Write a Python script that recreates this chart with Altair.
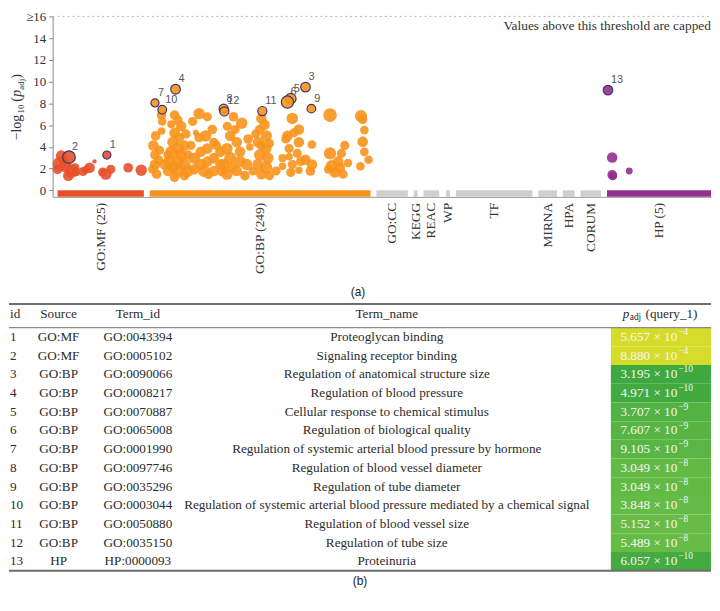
import altair as alt
import numpy as np
import pandas as pd

SERIF = "Liberation Serif"
SANS = "Liberation Sans"
TXT = "#2b2b2b"

# ---------------- Source tracks ----------------
source_names = ["GO:MF", "GO:BP", "GO:CC", "KEGG", "REAC", "WP", "TF", "MIRNA", "HPA", "CORUM", "HP"]
source_labels = ["GO:MF (25)", "GO:BP (249)", "GO:CC", "KEGG", "REAC", "WP", "TF", "MIRNA", "HPA", "CORUM", "HP (5)"]
source_start = [5, 99, 330, 368, 378, 401, 411, 495, 520, 538, 565]
source_end = [93, 324, 362, 372, 394, 405, 489, 514, 532, 559, 671]
source_colors = ["#e8502a", "#f7941d", "#cfcfcf", "#cfcfcf", "#cfcfcf", "#cfcfcf",
                 "#cfcfcf", "#cfcfcf", "#cfcfcf", "#cfcfcf", "#952f8f"]

# ---------------- Unlabelled points ----------------
mf_x = [8.7, 7.0, 12.7, 19.3, 16.0, 22.7, 31.0, 37.7, 42.7, 34.0,
        54.3, 59.3, 77.0, 90.3, 11.0, 24.0, 51.0, 5.0]
mf_y = [3.19, 2.44, 2.22, 1.78, 1.35, 2.08, 1.73, 2.08, 2.66, 1.89,
        1.49, 1.93, 2.08, 1.85, 2.81, 1.67, 1.67, 1.93]
mf_size = [600, 1000, 800, 1000, 600, 450, 450, 600, 100, 300,
           700, 450, 500, 700, 450, 350, 450, 500]

bp_x = [105.0, 102.7, 104.3, 104.3, 106.0, 102.0, 111.0, 111.7, 111.0, 114.3,
        117.7, 109.0, 108.0, 124.3, 127.7, 131.0, 124.3, 122.7, 121.0, 127.7,
        134.3, 137.7, 119.3, 127.7, 134.3, 117.7, 127.7, 137.7, 124.3, 134.3,
        129.0, 136.0, 121.0, 131.0, 123.0, 149.3, 157.7, 142.7, 146.0, 149.3,
        156.0, 162.7, 164.3, 157.7, 151.0, 144.3, 151.0, 157.7, 164.3, 171.0,
        171.0, 154.3, 164.3, 172.7, 144.3, 141.0, 167.0, 159.0, 184.3, 192.7,
        186.0, 181.0, 187.7, 199.3, 177.7, 191.0, 201.0, 181.0, 191.0, 197.7,
        174.3, 177.7, 187.7, 196.0, 204.3, 178.0, 183.0, 212.7, 216.0, 211.0,
        217.7, 209.3, 217.7, 211.0, 219.3, 209.3, 217.7, 212.7, 221.0, 213.0,
        221.0, 207.0, 227.7, 234.3, 244.3, 239.3, 246.0, 251.0, 241.0, 249.3,
        241.0, 244.3, 252.7, 242.7, 251.0, 237.7, 234.3, 251.0, 264.3, 257.7,
        264.3, 262.7, 282.7, 297.7, 282.7, 294.3, 301.0, 291.0, 284.3, 292.7,
        287.7, 296.0, 281.0, 314.3, 316.0, 317.7, 316.0, 317.7, 322.0, 313.7]
bp_y = [5.01, 4.13, 3.25, 2.37, 1.49, 1.93, 6.92, 6.33, 5.45, 2.37,
        1.78, 3.69, 2.81, 6.92, 6.48, 5.89, 5.30, 4.42, 3.54, 3.84,
        4.13, 3.25, 2.66, 2.66, 2.37, 3.25, 1.78, 1.78, 1.20, 1.35,
        4.84, 5.19, 6.07, 3.25, 2.20, 7.06, 6.77, 6.33, 5.30, 4.86,
        5.01, 5.60, 4.42, 3.84, 3.54, 2.96, 2.37, 2.66, 2.96, 3.54,
        2.37, 1.78, 1.78, 1.78, 1.93, 4.13, 4.13, 1.45, 6.77, 6.18,
        5.60, 5.01, 4.42, 4.72, 3.84, 3.54, 3.98, 2.96, 2.66, 2.37,
        2.37, 1.49, 1.78, 1.35, 1.78, 5.89, 2.11, 6.62, 6.04, 5.60,
        5.01, 4.42, 3.84, 3.25, 2.96, 2.37, 2.08, 1.49, 1.35, 4.13,
        4.31, 5.19, 1.78, 2.22, 6.62, 5.01, 5.30, 4.42, 3.84, 3.40,
        3.10, 2.37, 2.66, 1.64, 1.85, 4.72, 2.96, 5.60, 4.22, 2.81,
        2.37, 1.78, 6.92, 4.13, 3.40, 3.40, 2.52, 2.66, 2.22, 2.08,
        1.64, 1.49, 1.93, 6.83, 6.51, 5.54, 4.48, 3.54, 2.81, 2.22]
bp_size = [500, 600, 500, 600, 500, 450, 500, 400, 300, 600,
           600, 450, 450, 500, 450, 600, 600, 700, 800, 800,
           600, 500, 800, 800, 800, 500, 800, 800, 500, 500,
           550, 450, 350, 700, 700, 700, 450, 450, 200, 500,
           700, 500, 450, 600, 600, 700, 700, 600, 600, 600,
           600, 800, 600, 600, 600, 450, 450, 450, 500, 700,
           450, 600, 600, 500, 700, 600, 300, 800, 700, 700,
           700, 700, 600, 500, 450, 450, 550, 600, 600, 500,
           700, 600, 600, 700, 700, 700, 800, 600, 450, 550,
           450, 450, 450, 300, 700, 600, 450, 600, 450, 450,
           300, 450, 450, 450, 300, 450, 350, 600, 400, 600,
           600, 500, 1000, 450, 800, 450, 400, 600, 800, 600,
           600, 450, 400, 800, 450, 400, 600, 400, 400, 400]

hp_x = [570.3, 570.3, 587.7, 571.0]
hp_y = [3.02, 1.43, 1.78, 1.32]
hp_size = [600, 500, 250, 400]

# ---------------- Highlighted terms (table) ----------------
ids = list(range(1, 14))
tab_source = ["GO:MF", "GO:MF", "GO:BP", "GO:BP", "GO:BP", "GO:BP", "GO:BP",
              "GO:BP", "GO:BP", "GO:BP", "GO:BP", "GO:BP", "HP"]
term_ids = ["GO:0043394", "GO:0005102", "GO:0090066", "GO:0008217", "GO:0070887",
            "GO:0065008", "GO:0001990", "GO:0097746", "GO:0035296", "GO:0003044",
            "GO:0050880", "GO:0035150", "HP:0000093"]
term_names = ["Proteoglycan binding",
              "Signaling receptor binding",
              "Regulation of anatomical structure size",
              "Regulation of blood pressure",
              "Cellular response to chemical stimulus",
              "Regulation of biological quality",
              "Regulation of systemic arterial blood pressure by hormone",
              "Regulation of blood vessel diameter",
              "Regulation of tube diameter",
              "Regulation of systemic arterial blood pressure mediated by a chemical signal",
              "Regulation of blood vessel size",
              "Regulation of tube size",
              "Proteinuria"]
p_mant = [5.657, 8.880, 3.195, 4.971, 3.707, 7.607, 9.105, 3.049, 3.049, 3.848, 5.152, 5.489, 6.057]
p_exp = [-4, -4, -10, -10, -9, -9, -9, -8, -8, -8, -8, -8, -10]
lab_x = [55.3, 16.7, 257.7, 125.3, 242.7, 239.3, 104.3, 174.3, 263.7, 111.7, 213.7, 175.0, 566.0]
lab_size = [350, 850, 500, 500, 600, 800, 350, 450, 400, 400, 450, 450, 500]

p_vals = [m * 10.0 ** e for m, e in zip(p_mant, p_exp)]
neglog = [-np.log10(p) for p in p_vals]
p_base = [f"{m:.3f} × 10" for m in p_mant]
p_pow = [f"−{abs(e)}" for e in p_exp]

# ---------------- Frames ----------------
src_df = pd.DataFrame({"source": source_names, "label": source_labels,
                       "start": source_start, "end": source_end})
src_df["center"] = (src_df["start"] + src_df["end"]) / 2

pts_df = pd.DataFrame({
    "source": ["GO:MF"] * len(mf_x) + ["GO:BP"] * len(bp_x) + ["HP"] * len(hp_x),
    "x": mf_x + bp_x + hp_x,
    "neglog": mf_y + bp_y + hp_y,
    "term_size": mf_size + bp_size + hp_size,
})
lab_df = pd.DataFrame({"id": [str(i) for i in ids], "source": tab_source, "x": lab_x,
                       "neglog": neglog, "term_size": lab_size})
tab_df = pd.DataFrame({"id": [str(i) for i in ids], "row": ids, "source": tab_source,
                       "term_id": term_ids, "term_name": term_names,
                       "p_base": p_base, "p_pow": p_pow, "neglog": neglog})
tab_df["top"] = tab_df["row"] - 0.5
tab_df["bot"] = tab_df["row"] + 0.5
one = pd.DataFrame({"a": [0]})

# ---------------- Manhattan plot ----------------
W1, H1 = 664, 182
xscale = alt.Scale(domain=[0, 671], nice=False, zero=False)
yscale = alt.Scale(domain=[-0.6, 16], nice=False, zero=False)
xaxis = alt.Axis(labels=False, ticks=False, grid=False, title=None,
                 domainColor="#9a9a9a", domainWidth=1)
yaxis = alt.Axis(values=list(range(0, 17, 2)),
                 labelExpr="datum.value >= 16 ? '≥16' : datum.label",
                 grid=False, title=None, domainColor="#8a8a8a", tickColor="#8a8a8a",
                 tickSize=4, labelFont=SERIF, labelFontSize=13, labelColor="#333333",
                 labelPadding=3)
cscale = alt.Scale(domain=source_names, range=source_colors)
sscale = alt.Scale(domain=[0, 2000], range=[0, 380])

bars = alt.Chart(src_df).mark_rect().encode(
    x=alt.X("start:Q", scale=xscale, axis=xaxis),
    x2="end:Q",
    y=alt.YDatum(0, scale=yscale, axis=yaxis),
    y2=alt.Y2Datum(-0.6),
    color=alt.Color("source:N", scale=cscale, legend=None),
)
cap_line = alt.Chart(one).mark_rule(strokeDash=[2, 3], color="#b5b5b5", strokeWidth=1).encode(
    y=alt.YDatum(16, scale=yscale, axis=yaxis), x=alt.value(0), x2=alt.value(W1))
cap_text = alt.Chart(one).mark_text(text="Values above this threshold are capped", align="right",
                                    baseline="middle", font=SERIF, fontSize=13.5, color="#333333").encode(
    x=alt.value(W1), y=alt.value(10))
points = alt.Chart(pts_df).mark_circle(opacity=0.9).encode(
    x=alt.X("x:Q", scale=xscale, axis=xaxis),
    y=alt.Y("neglog:Q", scale=yscale, axis=yaxis),
    size=alt.Size("term_size:Q", scale=sscale, legend=None),
    color=alt.Color("source:N", scale=cscale, legend=None),
)
hl = alt.Chart(lab_df).mark_circle(fillOpacity=0.9, stroke="#3d386b", strokeWidth=1.2,
                                   strokeOpacity=1).encode(
    x=alt.X("x:Q", scale=xscale, axis=xaxis),
    y=alt.Y("neglog:Q", scale=yscale, axis=yaxis),
    size=alt.Size("term_size:Q", scale=sscale, legend=None),
    color=alt.Color("source:N", scale=cscale, legend=None),
)
hl_text = alt.Chart(lab_df).mark_text(align="left", baseline="middle", dx=3, dy=-10,
                                      font=SANS, fontSize=11, color="#555555").encode(
    x=alt.X("x:Q", scale=xscale, axis=xaxis),
    y=alt.Y("neglog:Q", scale=yscale, axis=yaxis),
    text="id:N",
)
src_text = alt.Chart(src_df).mark_text(angle=270, align="right", baseline="middle",
                                       font=SERIF, fontSize=13.5, color="#333333").encode(
    x=alt.X("center:Q", scale=xscale, axis=xaxis),
    y=alt.value(H1 + 6),
    text="label:N",
)

# y title: −log10 (p_adj)
def ypiece(txt, ypos, xpos, size, style="normal"):
    return alt.Chart(one).mark_text(text=txt, angle=270, align="left", baseline="middle",
                                    font=SERIF, fontSize=size, fontStyle=style,
                                    color="#333333").encode(x=alt.value(xpos), y=alt.value(ypos))

ytitle = [ypiece("−log", 125, -36, 14), ypiece("10", 98, -32, 9), ypiece("(", 86, -36, 14),
          ypiece("p", 81, -36, 14, "italic"), ypiece("adj", 74, -32, 9), ypiece(")", 63, -36, 14)]
cap_a = alt.Chart(one).mark_text(text="(a)", font=SANS, fontSize=12, color="#222222",
                                 baseline="middle").encode(x=alt.value(308), y=alt.value(278))

top = alt.layer(bars, cap_line, cap_text, points, hl, hl_text, src_text, *ytitle, cap_a).properties(
    width=W1, height=H1)

# ---------------- Table (shares the plot's left origin; drawn from x=-44) ----------------
L, R = -44, W1
H2 = 269
FS = 13.3
tscale = alt.Scale(domain=[-0.77, 13.5], reverse=True, nice=False, zero=False)
fillscale = alt.Scale(domain=[3.3, 7.3, 9.5], range=["#d5dd2a", "#66bc46", "#3ea93f"], clamp=True)

cells = alt.Chart(tab_df).mark_rect().encode(
    x=alt.value(563), x2=alt.value(R),
    y=alt.Y("top:Q", scale=tscale, axis=None), y2="bot:Q",
    color=alt.Color("neglog:Q", scale=fillscale, legend=None),
)

def column(field, xpos, align, color=TXT, size=FS, dy=0):
    return alt.Chart(tab_df).mark_text(align=align, baseline="middle", font=SERIF, fontSize=size,
                                       color=color, dy=dy).encode(
        x=alt.value(xpos), y=alt.Y("row:Q", scale=tscale, axis=None), text=f"{field}:N")

def header(txt, xpos, align, size=FS, style="normal", dy=0):
    return alt.Chart(one).mark_text(text=txt, align=align, baseline="middle", font=SERIF,
                                    fontSize=size, fontStyle=style, dy=dy, color=TXT).encode(
        x=alt.value(xpos), y=alt.YDatum(-0.24, scale=tscale, axis=None))

def hline(v, w, color):
    return alt.Chart(one).mark_rule(color=color, strokeWidth=w).encode(
        y=alt.YDatum(v, scale=tscale, axis=None), x=alt.value(L), x2=alt.value(R))

cols = [column("id", L + 1, "left"), column("source", 6, "center"), column("term_id", 86, "center"),
        column("term_name", 337, "center"),
        column("p_base", 630, "right", "#f5f5f5"),
        column("p_pow", 631, "left", "#f5f5f5", 9.5, -5)]
heads = [header("id", L + 1, "left"), header("Source", 6, "center"), header("Term_id", 86, "center"),
         header("Term_name", 337, "center"), header("p", 575, "left", FS, "italic"),
         header("adj", 582, "left", 9.5, "normal", 3), header("(query_1)", 598, "left")]
lines = [hline(-0.77, 2, "#6d6e71"), hline(0.5, 1.3, "#8a8a8a"), hline(13.5, 2, "#6d6e71")]
cap_b = alt.Chart(one).mark_text(text="(b)", font=SANS, fontSize=12, color="#222222",
                                 baseline="middle").encode(x=alt.value(310), y=alt.value(H2 + 10))

table = alt.layer(cells, *lines, *cols, *heads, cap_b).properties(width=W1, height=H2)

chart = alt.vconcat(top, table, spacing=5, padding=0).configure_view(strokeWidth=0)
chart.save("out.html", embed_options={"renderer": "svg", "actions": False})
